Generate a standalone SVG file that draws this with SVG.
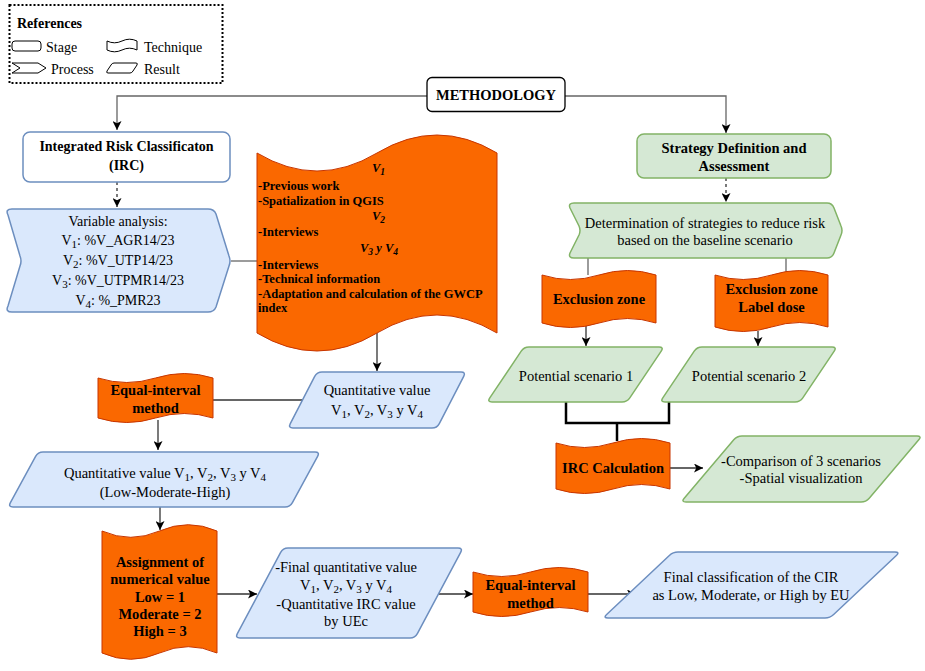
<svg xmlns="http://www.w3.org/2000/svg" width="925" height="671" viewBox="0 0 925 671">
<style>
.t{font-family:"Liberation Serif","Times New Roman",serif;fill:#000}
.r{font-size:14.5px}
.s{font-size:14px}
.b{font-weight:bold}
.m{text-anchor:middle}
.ob{font-size:12.5px;font-weight:bold}
.blue{fill:#dae8fc;stroke:#6c8ebf;stroke-width:1.5}
.green{fill:#d5e8d4;stroke:#82b366;stroke-width:1.5}
.orange{fill:#fa6800;stroke:#c73500;stroke-width:1}
.white{fill:#fff;stroke:#000;stroke-width:1.3}
.ln{fill:none;stroke:#333;stroke-width:1.3}
.gl{fill:none;stroke:#666;stroke-width:1.3}
.dash{stroke-dasharray:3 3}
.thick{fill:none;stroke:#000;stroke-width:2.5}
.icon{fill:#fff;stroke:#000;stroke-width:1}
</style>
<defs>
<marker id="ah" viewBox="0 0 10 10" refX="10" refY="5" markerWidth="9" markerHeight="9" markerUnits="userSpaceOnUse" orient="auto"><path d="M0,0 L10,5 L0,10 L2.5,5 Z" fill="#000"/></marker>
</defs>
<rect width="925" height="671" fill="#fff"/>

<g id="legend">
<rect x="9.5" y="5" width="213" height="78" fill="#fff" stroke="#000" stroke-width="2" stroke-dasharray="2 2"/>
<text x="17" y="28" class="t b s">References</text>
<rect x="12" y="41" width="29" height="10" rx="3" class="icon"/>
<text x="46" y="52" class="t s">Stage</text>
<path d="M107,41 Q114.5,44.6 122,41 Q129.5,37.4 137,41 L137,50 Q129.5,46.4 122,50 Q114.5,53.6 107,50 Z" class="icon"/>
<text x="144" y="52" class="t s">Technique</text>
<path d="M12,63 L38,63 L46,68 L38,73 L12,73 L20,68 Z" class="icon" stroke-linejoin="round"/>
<text x="51" y="74" class="t s">Process</text>
<path d="M114,63 L136,63 Q138,63 137,65 L133,71 Q132,73 130,73 L108,73 Q106,73 107,71 L111,65 Q112,63 114,63 Z" class="icon"/>
<text x="144" y="74" class="t s">Result</text>
</g>

<g id="connectors">
<path d="M427,96 H117 V130" class="gl" marker-end="url(#ah)"/>
<path d="M565,96 H726 V133" class="gl" marker-end="url(#ah)"/>
<path d="M117,182 V207" class="ln dash" marker-end="url(#ah)"/>
<path d="M726,178 V202" class="ln dash" marker-end="url(#ah)"/>
<path d="M231,261 H257" class="gl"/>
<path d="M377,333 V371" class="ln" marker-end="url(#ah)"/>
<path d="M213,400 H303" class="ln"/>
<path d="M158,420 V450" class="ln" marker-end="url(#ah)"/>
<path d="M160,507 V530" class="ln" marker-end="url(#ah)"/>
<path d="M217,594 H257" class="ln" marker-end="url(#ah)"/>
<path d="M439,594 H473" class="ln" marker-end="url(#ah)"/>
<path d="M588,594 H636" class="ln" marker-end="url(#ah)"/>
<path d="M588,258 V275" class="gl"/>
<path d="M786,258 V275" class="gl"/>
<path d="M586,325 V346" class="ln" marker-end="url(#ah)"/>
<path d="M758,331 V346" class="ln" marker-end="url(#ah)"/>
<path d="M566,402 V423 H669 V402" class="thick"/>
<path d="M617,423 V441" class="thick"/>
<path d="M670,468 H703" class="ln" marker-end="url(#ah)"/>
</g>

<g id="methodology">
<rect x="427" y="77.5" width="138" height="34" rx="5" class="white"/>
<text x="496" y="100" class="t b r m">METHODOLOGY</text>
</g>

<g id="irc">
<rect x="23" y="132" width="207" height="50" rx="7" fill="#fff" stroke="#6c8ebf" stroke-width="1.5"/>
<text x="126.5" y="151" class="t b m" font-size="14">Integrated Risk Classificaton</text>
<text x="126.5" y="170" class="t b m" font-size="14">(IRC)</text>
</g>

<g id="variable-analysis">
<path d="M12,209 L208,209 Q214,209 216,214 L229,256 Q231,261 229,266 L216,307 Q214,312 208,312 L12,312 Q5,312 8,306 L20,266 Q22,261 20,256 L8,215 Q5,209 12,209 Z" class="blue"/>
<text x="118" y="226" class="t s m">Variable analysis:</text>
<text x="118" y="245" class="t s m">V<tspan font-size="11" dy="3">1</tspan><tspan dy="-3">: %V_AGR14/23</tspan></text>
<text x="118" y="265" class="t s m">V<tspan font-size="11" dy="3">2</tspan><tspan dy="-3">: %V_UTP14/23</tspan></text>
<text x="118" y="285" class="t s m">V<tspan font-size="11" dy="3">3</tspan><tspan dy="-3">: %V_UTPMR14/23</tspan></text>
<text x="118" y="305" class="t s m">V<tspan font-size="11" dy="3">4</tspan><tspan dy="-3">: %_PMR23</tspan></text>
</g>

<g id="techniques">
<path d="M257,153 Q317,189 377,153 Q437,117 497,153 L497,333 Q437,297 377,333 Q317,369 257,333 Z" class="orange"/>
<text x="372" y="172" class="t ob" font-style="italic">V<tspan font-size="9.5" dy="3">1</tspan></text>
<text x="258" y="190" class="t ob">-Previous work</text>
<text x="258" y="205" class="t ob">-Spatialization in QGIS</text>
<text x="372" y="220" class="t ob" font-style="italic">V<tspan font-size="9.5" dy="3">2</tspan></text>
<text x="258" y="236" class="t ob">-Interviews</text>
<text x="360" y="252" class="t ob" font-style="italic">V<tspan font-size="9.5" dy="3">3</tspan><tspan dy="-3"> y V</tspan><tspan font-size="9.5" dy="3">4</tspan></text>
<text x="258" y="269" class="t ob">-Interviews</text>
<text x="258" y="283" class="t ob">-Technical information</text>
<text x="258" y="298" class="t ob">-Adaptation and calculation of the GWCP</text>
<text x="258" y="312" class="t ob">index</text>
</g>

<g id="quant-value">
<path d="M322,372 L461,372 Q466,372 463.7,376.45 L439.3,423.55 Q437,428 432,428 L293,428 Q288,428 290.3,423.55 L314.7,376.45 Q317,372 322,372 Z" class="blue"/>
<text x="377" y="395" class="t r m">Quantitative value</text>
<text x="377" y="415" class="t r m">V<tspan font-size="11" dy="3">1</tspan><tspan dy="-3">, V</tspan><tspan font-size="11" dy="3">2</tspan><tspan dy="-3">, V</tspan><tspan font-size="11" dy="3">3</tspan><tspan dy="-3"> y V</tspan><tspan font-size="11" dy="3">4</tspan></text>
</g>

<g id="equal-interval-1">
<path d="M98,378 Q126.75,387 155.5,378 Q184.25,369 213,378 L213,418 Q184.25,409 155.5,418 Q126.75,427 98,418 Z" class="orange"/>
<text x="155.5" y="395" class="t b r m">Equal-interval</text>
<text x="155.5" y="413" class="t b r m">method</text>
</g>

<g id="quant-value-lmh">
<path d="M43,452 L315,452 Q320,452 317.6,456.39 L292.4,502.61 Q290,507 285,507 L13,507 Q8,507 10.4,502.61 L35.6,456.39 Q38,452 43,452 Z" class="blue"/>
<text x="165" y="478" class="t r m">Quantitative value V<tspan font-size="11" dy="3">1</tspan><tspan dy="-3">, V</tspan><tspan font-size="11" dy="3">2</tspan><tspan dy="-3">, V</tspan><tspan font-size="11" dy="3">3</tspan><tspan dy="-3"> y V</tspan><tspan font-size="11" dy="3">4</tspan></text>
<text x="165" y="497" class="t r m">(Low-Moderate-High)</text>
</g>

<g id="assignment">
<path d="M102,531 Q130.75,543.6 159.5,531 Q188.25,518.4 217,531 L217,653 Q188.25,640.4 159.5,653 Q130.75,665.6 102,653 Z" class="orange"/>
<text x="160" y="567" class="t b r m">Assignment of</text>
<text x="160" y="584" class="t b r m">numerical value</text>
<text x="160" y="602" class="t b r m">Low = 1</text>
<text x="160" y="619" class="t b r m">Moderate = 2</text>
<text x="160" y="636" class="t b r m">High = 3</text>
</g>

<g id="final-quant">
<path d="M288,548 L458,548 Q463,548 460.65,552.41 L417.35,633.59 Q415,638 410,638 L240,638 Q235,638 237.35,633.59 L280.65,552.41 Q283,548 288,548 Z" class="blue"/>
<text x="346" y="572" class="t r m">-Final quantitative value</text>
<text x="346" y="590" class="t r m">V<tspan font-size="11" dy="3">1</tspan><tspan dy="-3">, V</tspan><tspan font-size="11" dy="3">2</tspan><tspan dy="-3">, V</tspan><tspan font-size="11" dy="3">3</tspan><tspan dy="-3"> y V</tspan><tspan font-size="11" dy="3">4</tspan></text>
<text x="346" y="609" class="t r m">-Quantitative IRC value</text>
<text x="346" y="626" class="t r m">by UEc</text>
</g>

<g id="equal-interval-2">
<path d="M473,572 Q501.75,581 530.5,572 Q559.25,563 588,572 L588,612 Q559.25,603 530.5,612 Q501.75,621 473,612 Z" class="orange"/>
<text x="530.5" y="590" class="t b r m">Equal-interval</text>
<text x="530.5" y="608" class="t b r m">method</text>
</g>

<g id="final-classification">
<path d="M678,552 L895,552 Q900,552 896.36,555.43 L833.64,614.57 Q830,618 825,618 L608,618 Q603,618 606.64,614.57 L669.36,555.43 Q673,552 678,552 Z" class="blue"/>
<text x="751" y="582" class="t r m">Final classification of the CIR</text>
<text x="751" y="600" class="t r m">as Low, Moderate, or High by EU</text>
</g>

<g id="strategy">
<rect x="637" y="134" width="194" height="44" rx="7" class="green"/>
<text x="734" y="153" class="t b r m">Strategy Definition and</text>
<text x="734" y="171" class="t b r m">Assessment</text>
</g>

<g id="determination">
<path d="M574,203 L827,203 Q832,203 834,208 L841,226 Q843,230.5 841,235 L834,253 Q832,258 827,258 L574,258 Q568,258 570,253 L579,235 Q581,230.5 579,226 L570,208 Q568,203 574,203 Z" class="green"/>
<text x="705" y="228" class="t r m">Determination of strategies to reduce risk</text>
<text x="705" y="245" class="t r m">based on the baseline scenario</text>
</g>

<g id="exclusion-zone-1">
<path d="M542,275 Q570.5,284 599,275 Q627.5,266 656,275 L656,323 Q627.5,314 599,323 Q570.5,332 542,323 Z" class="orange"/>
<text x="599" y="304" class="t b r m">Exclusion zone</text>
</g>

<g id="exclusion-zone-2">
<path d="M715,275 Q743.25,284 771.5,275 Q799.75,266 828,275 L828,327 Q799.75,318 771.5,327 Q743.25,336 715,327 Z" class="orange"/>
<text x="771.5" y="294" class="t b r m">Exclusion zone</text>
<text x="771.5" y="312" class="t b r m">Label dose</text>
</g>

<g id="potential-1">
<path d="M529,347 L659,347 Q664,347 661.21,351.15 L629.79,397.85 Q627,402 622,402 L492,402 Q487,402 489.79,397.85 L521.21,351.15 Q524,347 529,347 Z" class="green"/>
<text x="576" y="381" class="t r m">Potential scenario 1</text>
</g>

<g id="potential-2">
<path d="M702,347 L832,347 Q837,347 834.21,351.15 L802.79,397.85 Q800,402 795,402 L665,402 Q660,402 662.79,397.85 L694.21,351.15 Q697,347 702,347 Z" class="green"/>
<text x="749" y="381" class="t r m">Potential scenario 2</text>
</g>

<g id="irc-calculation">
<path d="M556,443 Q584.5,452 613,443 Q641.5,434 670,443 L670,489 Q641.5,480 613,489 Q584.5,498 556,489 Z" class="orange"/>
<text x="613" y="473" class="t b r m">IRC Calculation</text>
</g>

<g id="comparison">
<path d="M742,436 L917,436 Q922,436 918.77,439.81 L869.23,498.19 Q866,502 861,502 L686,502 Q681,502 684.23,498.19 L733.77,439.81 Q737,436 742,436 Z" class="green"/>
<text x="801" y="466" class="t r m">-Comparison of 3 scenarios</text>
<text x="801" y="483" class="t r m">-Spatial visualization</text>
</g>
</svg>
